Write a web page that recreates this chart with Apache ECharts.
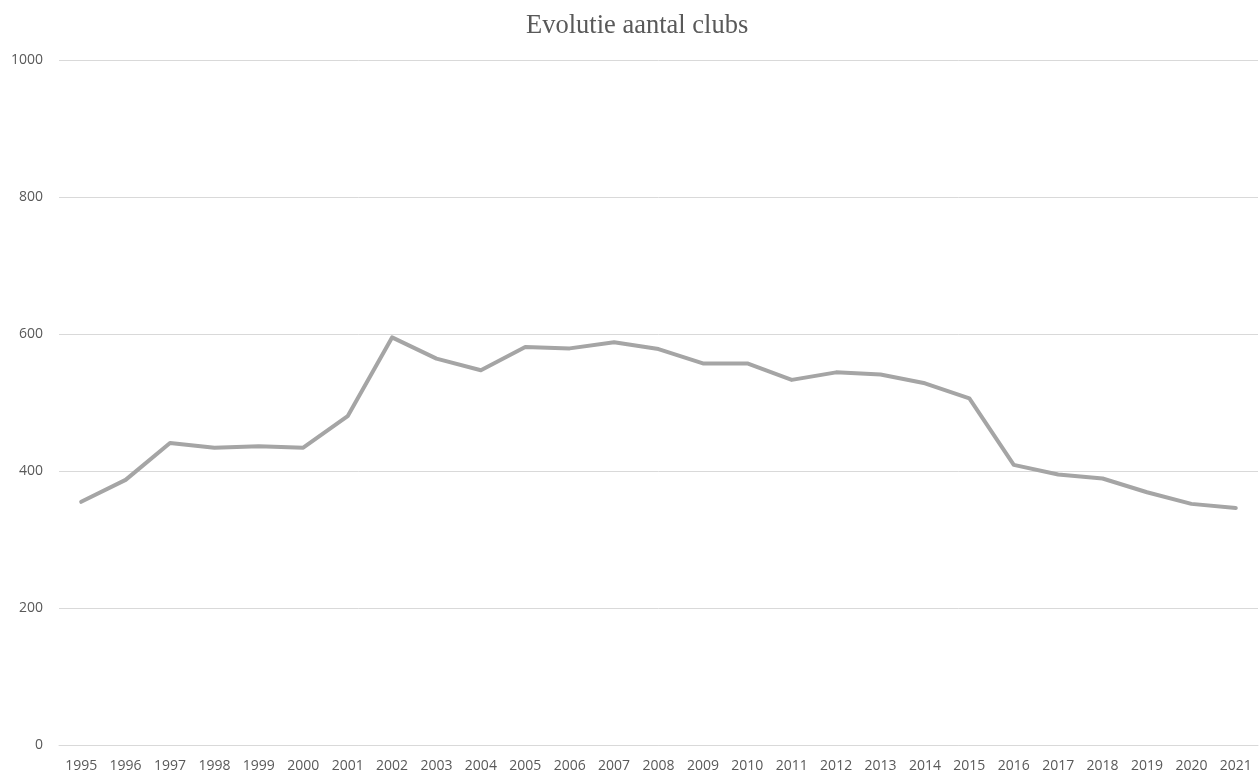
<!DOCTYPE html>
<html>
<head>
<meta charset="utf-8">
<script src="https://cdn.jsdelivr.net/npm/echarts@6/dist/echarts.min.js"></script>
<style>
  html, body { margin: 0; padding: 0; background: #fff; }
  #chart { width: 1259px; height: 775px; }
</style>
</head>
<body>
<div id="chart"></div>
<script>
// Number of clubs per year
const years = ['1995','1996','1997','1998','1999','2000','2001','2002','2003','2004',
  '2005','2006','2007','2008','2009','2010','2011','2012','2013','2014',
  '2015','2016','2017','2018','2019','2020','2021'];
const clubs = [355, 387, 441, 434, 436, 434, 480, 595, 564, 547,
  581, 579, 588, 578, 557, 557, 533, 544, 541, 528,
  506, 409, 395, 389, 369, 352, 346];
const yTicks = [0, 200, 400, 600, 800, 1000];

const chart = echarts.init(document.getElementById('chart'), null, { renderer: 'canvas' });
chart.setOption({
  animation: false,
  backgroundColor: '#ffffff',
  title: {
    text: 'Evolutie aantal clubs',
    left: 521,
    top: 8,
    textStyle: {
      fontFamily: '"Liberation Serif", "Times New Roman", serif',
      fontSize: 26.5,
      fontWeight: 'normal',
      color: '#595959'
    }
  },
  grid: { left: 59, right: 1, top: 60, bottom: 30, containLabel: false },
  xAxis: {
    type: 'category',
    data: years,
    boundaryGap: true,
    axisLine: { show: true, lineStyle: { color: '#D9D9D9', width: 1 } },
    axisTick: { show: false },
    axisLabel: {
      interval: 0,
      margin: 14,
      fontFamily: '"Open Sans", "Noto Sans", sans-serif',
      fontSize: 14,
      color: '#595959'
    }
  },
  yAxis: {
    type: 'value',
    min: yTicks[0],
    max: yTicks[yTicks.length - 1],
    interval: yTicks[1] - yTicks[0],
    axisLine: { show: false },
    axisTick: { show: false },
    splitLine: { lineStyle: { color: '#D9D9D9', width: 1 } },
    axisLabel: {
      margin: 16,
      formatter: function (v) { return String(v); },
      fontFamily: '"Open Sans", "Noto Sans", sans-serif',
      fontSize: 14,
      color: '#595959'
    }
  },
  series: [{
    type: 'line',
    data: clubs,
    symbol: 'none',
    lineStyle: { color: '#A5A5A5', width: 4, cap: 'round', join: 'round' }
  }]
});
</script>
</body>
</html>
